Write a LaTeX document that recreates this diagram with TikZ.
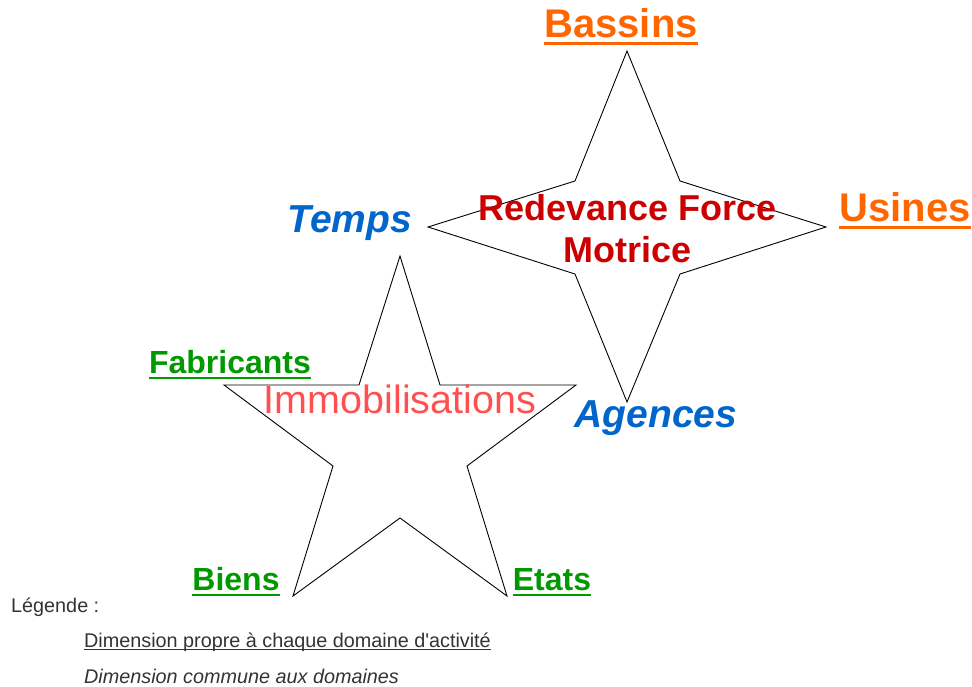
\documentclass[tikz,border=0pt]{standalone}
\usepackage{fontspec}
\setmainfont{Liberation Sans}[Ligatures=TeXOff]
\definecolor{orangeDim}{HTML}{FF6600}
\definecolor{bleuDim}{HTML}{0066CC}
\definecolor{rougeRFM}{HTML}{CC0000}
\definecolor{rougeImmo}{HTML}{FF5050}
\definecolor{vertDim}{HTML}{009900}
\definecolor{gris}{HTML}{333333}
% soulignement epais, de la couleur du texte
\newcommand{\souligne}[1]{\leavevmode\setbox0=\hbox{#1}\rlap{\rule[-.2em]{\wd0}{.065em}}\box0}
\newcommand{\soulignefin}[1]{\leavevmode\setbox0=\hbox{#1}\rlap{\rule[-.17em]{\wd0}{.06em}}\box0}

\begin{document}
\begin{tikzpicture}[x=1pt, y=-1pt,
    every node/.style={inner sep=0pt, anchor=base},
    etoile/.style={draw=black, line width=0.9pt, line join=miter},
    propreA/.style={orangeDim, font=\fontsize{40}{48}\selectfont\bfseries},
    propreB/.style={vertDim, font=\fontsize{32}{38}\selectfont\bfseries},
    commune/.style={bleuDim, font=\fontsize{39}{46}\selectfont\bfseries\itshape},
    domaine/.style={font=\fontsize{36}{42}\selectfont\bfseries, align=center},
    legende/.style={gris, anchor=base west, font=\fontsize{19.8}{24}\selectfont}]

    \useasboundingbox (0,0) rectangle (972,686);

    % etoile a quatre branches
    \draw[etoile] (627,51) -- (680,181) -- (826,227) -- (680,274) -- (627,402)
        -- (575,274) -- (428,227) -- (575,181) -- cycle;
    % etoile a cinq branches
    \draw[etoile] (400,256) -- (440,385) -- (576,385) -- (467,466) -- (507,596)
        -- (400,518) -- (293,596) -- (333,466) -- (224,385) -- (359,385) -- cycle;

    \node[domaine, rougeRFM] (rfm) at (628,262) {Redevance Force\\[0pt]Motrice};
    \node[rougeImmo, font=\fontsize{39.5}{46}\selectfont] (immo) at (400,413) {Immobilisations};

    \node[propreA] (bassins) at (621,37) {\souligne{Bassins}};
    \node[propreA] (usines) at (905,221) {\souligne{Usines}};
    \node[commune] (temps) at (350,232) {Temps};
    \node[commune] (agences) at (656,427) {Agences};

    \node[propreB] (fabricants) at (230,373) {\souligne{Fabricants}};
    \node[propreB] (biens) at (236,590) {\souligne{Biens}};
    \node[propreB] (etats) at (552,590) {\souligne{Etats}};

    \node[legende] (leg) at (11,612) {Légende :};
    \node[legende] (legpropre) at (84,647) {\soulignefin{Dimension propre à chaque domaine d'activité}};
    \node[legende, font=\fontsize{19.8}{24}\selectfont\itshape] (legcommune) at (84,683) {Dimension commune aux domaines};

\end{tikzpicture}
\end{document}
